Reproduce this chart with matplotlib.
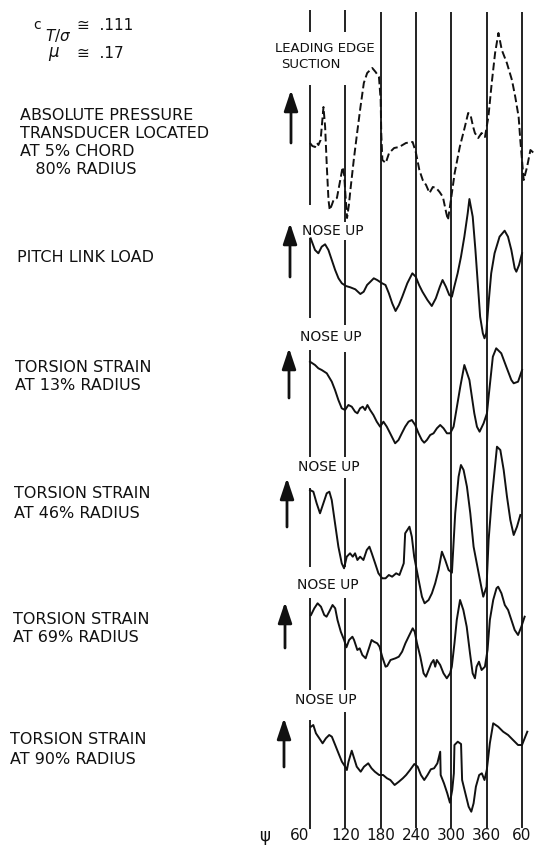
import matplotlib.pyplot as plt

W, H = 538, 850

# azimuth timing lines and their labels
psi_lines = [60, 120, 180, 240, 300, 360, 420]
psi_labels = ["60", "120", "180", "240", "300", "360", "60"]

# absolute pressure at 5% chord (dashed), deflection up = leading edge suction
pres_psi = [60, 64, 68.6, 72, 74.3, 78, 82.9, 85.7, 88.6, 91.4,
            93.5, 97, 100, 105.7, 111.4, 115.4, 118, 120, 122.9, 126,
            128.6, 134.3, 140, 145.7, 151.4, 157.1, 165.7, 171.4, 177.1, 180,
            181, 182.9, 188.6, 194.3, 202.9, 211.4, 222.9, 234.3, 240, 245.7,
            251.4, 257.1, 262.9, 268.6, 274.3, 280, 285.7, 291.4, 294.3, 300,
            305.7, 314.3, 322.9, 328.6, 332.6, 337.1, 340, 345.7, 351.4, 357.1,
            362.9, 368.6, 374.3, 380, 385.7, 394.3, 402.9, 408.6, 414.3, 417.1,
            420, 422.9, 428.6, 434.3, 440]
pres_val = [7, 4, 3, 7, 5, 10, 43, 23, -17, -50,
            -60, -55, -50, -48, -30, -17, -25, -43, -68, -55,
            -40, -10, 17, 43, 67, 77, 82, 78, 73, 50,
            17, -10, -13, -3, 2, 3, 7, 8, -3, -20,
            -30, -35, -43, -37, -38, -42, -47, -63, -70, -47,
            -23, 3, 23, 37, 35, 23, 17, 12, 17, 13,
            33, 67, 97, 117, 100, 87, 70, 53, 33, 10,
            -10, -30, -17, 0, -3]

# pitch link load, up = nose up
pitch_psi = [61.1, 68.5, 74.2, 79.9, 85.6, 91.3, 97, 102.7, 108.4, 114.1,
             121, 128.4, 136.9, 145.5, 151.2, 156.9, 162.6, 168.3, 174, 182.5,
             188.2, 193.9, 199.6, 205.3, 211, 216.7, 225.2, 233.8, 239.5, 245.2,
             250.9, 259.4, 266.8, 273.7, 280.5, 285.1, 290.8, 296.5, 301, 305,
             310.7, 316.4, 322.1, 327.8, 330.7, 336.3, 340.9, 344.9, 348.9, 353.5,
             356.3, 359.2, 363.7, 367.7, 373.4, 381.9, 390.5, 396.2, 401.9, 407.6,
             410.4, 415, 420.1]
pitch_val = [41.7, 30, 26.7, 33.3, 35.7, 30, 20, 10, 1.7, -3.3,
             -6, -7.3, -9.3, -14, -11.7, -5, -1.7, 1.7, 0, -3.3,
             -5, -13.3, -23.3, -31, -25, -16.7, -3.3, 6.7, 3.3, -5,
             -11.7, -20, -26, -18.3, -6.7, 0, -6.7, -15, -16.7, -6.7,
             6.7, 23.3, 43.3, 66.7, 81, 63.3, 30, -3.3, -36.7, -53.3,
             -58.3, -53.3, -20, 6.7, 26.7, 43.3, 49.3, 43.3, 30, 11.7,
             8.3, 15, 26.7]

# torsion strain at 13% radius
t13_psi = [60, 68.5, 74.2, 79.9, 88.5, 97, 102.5, 108.2, 113.9, 119.5,
           125.2, 130.9, 136.5, 140.5, 145.1, 149.6, 153.6, 157.5, 162.1, 167.7,
           173.4, 179.1, 184.7, 190.4, 196.1, 204.6, 210.3, 215.9, 221.6, 227.3,
           232.9, 238.6, 244.3, 249.9, 253.9, 258.5, 264.1, 269.8, 275.5, 281.1,
           286.8, 292.5, 298.1, 303.8, 309.5, 315.2, 322.1, 330.7, 339, 343.5,
           348, 354.8, 360.5, 363.3, 370.5, 376.2, 384.8, 393.3, 401.9, 405.9,
           413.3, 420.1]
t13_val = [38.3, 35, 31.7, 30, 26.7, 18.3, 10, 0, -8.3, -10,
           -5, -6.7, -11.7, -13.3, -8.3, -6.7, -10, -5, -10, -15,
           -21.7, -26.7, -21.7, -26.7, -33.3, -43.3, -40, -33.3, -26.7, -21.7,
           -20, -25, -33.3, -40, -42.7, -40, -35, -33.3, -28.3, -25,
           -28.3, -33.3, -33.3, -26.7, -6.7, 13.3, 35, 20, -13.3, -26.7,
           -31.7, -23.3, -13.3, 3.3, 43.3, 51.7, 46.7, 33.3, 20, 16.7,
           18.3, 30]

# torsion strain at 46% radius
t46_psi = [60, 65.7, 71.3, 77, 82.7, 88.4, 92.9, 96.9, 102.5, 108.2,
           113.9, 117.8, 122.4, 128, 132.6, 136.5, 140.5, 145.1, 150.7, 156.4,
           160.9, 164.9, 170.6, 176.2, 182.6, 188.3, 193.9, 199.5, 206.3, 211.9,
           219.2, 221.6, 228.9, 232.9, 236.9, 244.5, 250.1, 254.6, 261.4, 267,
           272.6, 278.3, 284, 289.6, 295.3, 301, 306.6, 312.3, 316.3, 320.8,
           326.5, 332.2, 337.8, 348.6, 354.2, 359.8, 363.3, 369, 374.7, 377.5,
           383.2, 388.9, 394.5, 400.2, 405.9, 411.5, 417.2]
t46_val = [50, 48.3, 36.7, 26.7, 36.7, 46.7, 48.3, 40, 16.7, -6.7,
           -23.3, -28.3, -16.7, -13.3, -16.7, -13.3, -20, -16.7, -20, -10,
           -6.7, -13.3, -23.3, -33.3, -38.3, -38.3, -35, -36.7, -33.3, -35,
           -23.3, 6.7, 13.3, 3.3, -16.7, -40, -56.7, -63.3, -60, -53.3,
           -43.3, -30, -11.7, -20, -30, -32.7, 26.7, 63.3, 75, 70,
           53.3, 26.7, -6.7, -40, -56.7, -46.7, 0, 43.3, 76.7, 93.3,
           90, 70, 43.3, 20, 5, 13.3, 25]

# torsion strain at 69% radius
t69_psi = [61.7, 67.3, 72.9, 78.6, 84.2, 88.1, 92.6, 98.3, 102.8, 106.7,
           112.3, 117.9, 121.9, 126.4, 132, 134.8, 140.4, 144.4, 148.9, 154.5,
           160.1, 164.6, 168.6, 174.2, 178.1, 182.6, 188.3, 191.1, 196.7, 205.1,
           210.8, 216.4, 222, 228.8, 234.4, 237.8, 241.7, 247.3, 252.9, 256.9,
           261.4, 265.9, 269.8, 272.6, 275.4, 281.1, 286.7, 292.3, 297.9, 300.8,
           305.3, 309.2, 314.8, 320.4, 326.1, 331.7, 336.2, 340.1, 342.9, 346.9,
           351.4, 357, 361.5, 365.4, 371.1, 376.7, 379.5, 385.1, 390.8, 396.4,
           402, 407.6, 413.3, 418.9, 424.5]
t69_val = [25, 31.7, 36.7, 33.3, 25, 23.3, 28.3, 35, 31.7, 20,
           8.3, 0, -7.3, 0, 3.3, 0, -10, -8.3, -15, -18.3,
           -8.3, 0, -1.7, -3.3, -6.7, -16.7, -26.7, -26, -20, -18.3,
           -16.7, -11.7, -3.3, 5, 11.7, 8.3, -3.3, -16.7, -33.3, -36.7,
           -30, -23.3, -20, -26.7, -20, -25, -33.3, -38.3, -33.3, -26.7,
           -3.3, 20, 40, 30, 13.3, -13.3, -33.3, -38.3, -26.7, -21.7,
           -30, -26.7, -10, 20, 40, 51.7, 53.3, 46.7, 35, 30,
           20, 10, 5, 13.3, 23.3]

# torsion strain at 90% radius
t90_psi = [61.7, 65.6, 70.1, 75.8, 81.4, 87, 92.6, 97.1, 102.8, 108.4,
           114.2, 119.8, 122.6, 125.4, 130.9, 139.4, 146.1, 151.7, 158.9, 164.5,
           170.1, 177.4, 184.1, 190.8, 196.4, 203.7, 210.9, 217.6, 223.2, 229.9,
           237.2, 242.8, 248.4, 254, 259.6, 265.2, 270.7, 276.3, 281.1, 281.9,
           287.5, 293.1, 297.6, 301.5, 304.3, 305.3, 310.9, 316.5, 318.3, 323.8,
           329.4, 333.9, 337.8, 341.7, 347.3, 351.8, 356.3, 360.2, 365.4, 371.1,
           379.5, 388, 396.4, 404.8, 413.3, 420, 425.6, 429]
t90_val = [33.3, 35, 26.7, 21.7, 16.7, 21.7, 25, 23.3, 15, 6.7,
           -1.7, -6.7, -10, -1.7, 9.3, -6.7, -11.7, -6.7, -3.3, -8.3,
           -11.7, -15, -15, -18.3, -20, -25, -21.7, -18.3, -15, -10,
           -4, -6.7, -15, -20, -15, -9.3, -8.3, -3.3, 8.3, -15,
           -23.3, -33.3, -42.7, -30, -13.3, 15, 18.3, 16, -20, -33.3,
           -46.7, -51.7, -43.3, -26.7, -15, -13.3, -20, -10, 16.7, 36.7,
           33.3, 28.3, 25, 20, 15, 15, 23.3, 28.3]

channel_labels = [
    ["ABSOLUTE PRESSURE", "TRANSDUCER LOCATED", "AT 5% CHORD", "   80% RADIUS"],
    ["PITCH LINK LOAD"],
    ["TORSION STRAIN", "AT 13% RADIUS"],
    ["TORSION STRAIN", "AT 46% RADIUS"],
    ["TORSION STRAIN", "AT 69% RADIUS"],
    ["TORSION STRAIN", "AT 90% RADIUS"],
]

# ---- layout (pixel rows of the original sheet) ----
PX60 = 310            # x pixel of psi = 60
PPD = 212 / 360       # pixels per degree
base_rows = [150, 280, 400, 540, 640, 760]
label_xy = [(20, 116), (17, 257), (15, 368), (14, 494), (13, 620), (10, 740)]
label_step = [18, 18, 18, 20, 18, 19]
arrow_pos = [(291, 90, 143), (290, 223, 277), (289, 348, 398),
             (287, 478, 527), (285, 602, 648), (284, 718, 767)]
noseup_xy = [(302, 231), (300, 337), (298, 467), (297, 585), (295, 700)]
seg60 = [(10, 32), (85, 205), (238, 318), (350, 457), (488, 567), (598, 690), (720, 829)]
seg120 = [(10, 32), (85, 222), (240, 325), (352, 457), (478, 567), (598, 690), (712, 828)]


def psi_at(px):
    return 60 + (px - PX60) / PPD


def fxy(px, py):
    return px / W, 1 - py / H


plt.rcParams['font.family'] = ['DejaVu Sans']
fig = plt.figure(figsize=(W / 100, H / 100), dpi=100)
ax = fig.add_axes([0, 0, 1, 1])
ax.set_xlim(psi_at(0), psi_at(W))
ax.set_ylim(H, 0)
ax.axis('off')

ink = '#111111'

# timing lines
for p in psi_lines[2:]:
    ax.vlines(p, 12, 828, color=ink, lw=1.3)
for y0, y1 in seg60:
    ax.vlines(psi_lines[0], y0, y1, color=ink, lw=1.3)
for y0, y1 in seg120:
    ax.vlines(psi_lines[1], y0, y1, color=ink, lw=1.3)

# traces
traces = [(pres_psi, pres_val), (pitch_psi, pitch_val), (t13_psi, t13_val),
          (t46_psi, t46_val), (t69_psi, t69_val), (t90_psi, t90_val)]
for i, (ps, vs) in enumerate(traces):
    ys = [base_rows[i] - v for v in vs]
    if i == 0:
        ax.plot(ps, ys, color=ink, lw=1.4, linestyle=(0, (4, 1.8)))
    else:
        ax.plot(ps, ys, color=ink, lw=1.4, solid_joinstyle='round')

# "positive" arrows
for px, top, bot in arrow_pos:
    ax.annotate('', xy=(psi_at(px), top), xytext=(psi_at(px), bot),
                arrowprops=dict(arrowstyle='-|>,head_length=0.9,head_width=0.3',
                                color=ink, lw=2, mutation_scale=14,
                                shrinkA=0, shrinkB=0))

for px, py in noseup_xy:
    fig.text(*fxy(px, py), "NOSE UP", fontsize=10, va='center', ha='left', color=ink)
fig.text(*fxy(275, 49), "LEADING EDGE", fontsize=9.5, va='center', ha='left', color=ink)
fig.text(*fxy(281, 65), "SUCTION", fontsize=9.5, va='center', ha='left', color=ink)

# channel names on the left
for lines, (px, py), step in zip(channel_labels, label_xy, label_step):
    for k, s in enumerate(lines):
        fig.text(*fxy(px, py + k * step), s, fontsize=11.5, va='center',
                 ha='left', color=ink)

# flight condition
fig.text(*fxy(33, 25), "c", fontsize=10, va='center', ha='left', color=ink)
fig.text(*fxy(45, 36), r"$T/\sigma$", fontsize=11, va='center', ha='left', color=ink)
fig.text(*fxy(77, 26), "\u2245  .111", fontsize=11, va='center', ha='left', color=ink)
fig.text(*fxy(48, 54), r"$\mu$", fontsize=12, va='center', ha='left', color=ink)
fig.text(*fxy(77, 53), "\u2245  .17", fontsize=11, va='center', ha='left', color=ink)

# azimuth scale
fig.text(*fxy(265, 836), "\u03c8", fontsize=12, va='center', ha='center', color=ink)
for k, (p, lab) in enumerate(zip(psi_lines, psi_labels)):
    if k == 0:
        ax.text(p - 1 / PPD, 836, lab, fontsize=11, va='center', ha='right', color=ink)
    else:
        ax.text(p, 836, lab, fontsize=11, va='center', ha='center', color=ink)

fig.savefig("out.png", dpi=100, facecolor='white')
